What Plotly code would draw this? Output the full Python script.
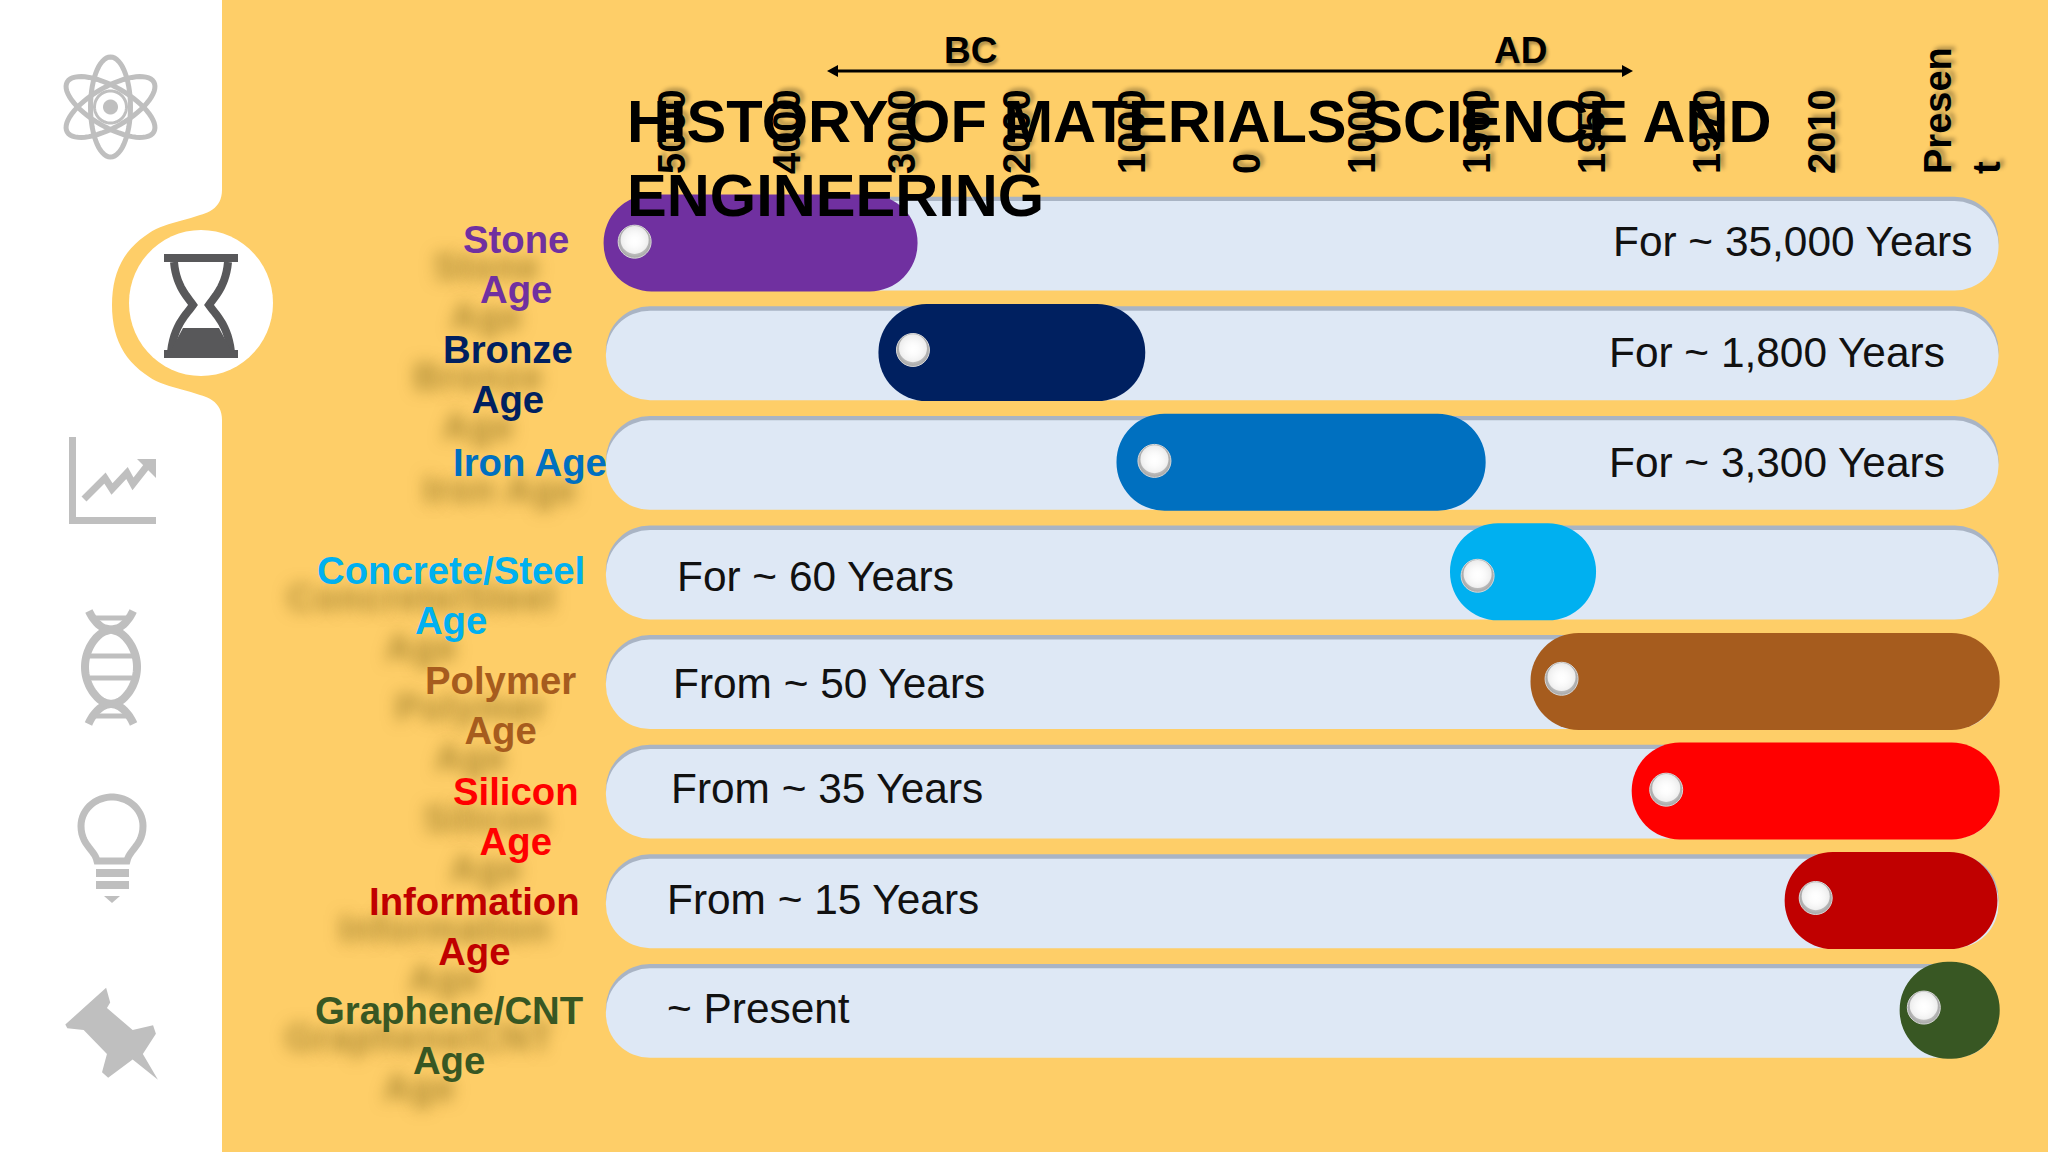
import numpy as np
import plotly.graph_objects as go

# ---------- data ----------
tick_labels = ["5000", "4000", "3000", "2000", "1000", "0", "1000", "1900", "1950", "1970", "2010", "Presen<br>t"]
tick_positions = [0, 1, 2, 3, 4, 5, 6, 7, 8, 9, 10, 11.22]
ages = ["Stone<br>Age", "Bronze<br>Age", "Iron Age", "Concrete/Steel<br>Age", "Polymer<br>Age",
        "Silicon<br>Age", "Information<br>Age", "Graphene/CNT<br>Age"]
rows = [0, 1, 2, 3, 4, 5, 6, 7]
age_start = [-0.60, 1.79, 3.86, 6.76, 7.46, 8.34, 9.67, 10.67]
age_end = [2.13, 4.11, 7.07, 8.03, 11.54, 11.54, 11.52, 11.54]
ball_pos = [-0.33, 2.09, 4.19, 7.00, 7.73, 8.64, 9.94, 10.88]
ball_rows = [-0.012, -0.024, -0.012, 0.036, -0.024, -0.012, -0.024, -0.024]
track_start = [-0.58] * 8
track_end = [11.53] * 8
age_colors = ["#7030A0", "#002060", "#0070C0", "#00B0F0", "#A65C1E", "#FF0000", "#C00000", "#385723"]
durations = ["For ~ 35,000 Years", "For ~ 1,800 Years", "For ~ 3,300 Years", "For ~ 60 Years",
             "From ~ 50 Years", "From ~ 35 Years", "From ~ 15 Years", "~ Present"]
title_line_1 = "HISTORY OF MATERIALS SCIENCE AND"
title_line_2 = "ENGINEERING"

# ---------- layout constants (pixels of the 2048x1152 page) ----------
W, H = 2048, 1152
S = 2048 / 1568
BG = "#FECE68"
ICON = "#BFBFBF"
DARK = "#58585A"
age_label_xy = [(395, 202.5), (389, 287), (406, 354), (345, 456), (383, 540), (395, 625), (363, 709), (344, 793)]
duration_xy = [(1233.5, 185), (1230.5, 270), (1230.5, 354), (516.5, 441), (513.5, 523), (512.5, 604), (509.5, 689), (509.5, 772)]
X0, DX = 672.6, 115.0      # pixel of tick 0, pixels per tick
Y0, DY = 243.0, 109.6      # pixel of row 0, pixels per row
PLOT_TOP = 175


def px(x):
    return x / W


def py(y):
    return 1 - y / H


def poly(pts, close=True):
    s = "M " + " L ".join(f"{px(x):.5f} {py(y):.5f}" for x, y in pts)
    return s + (" Z" if close else "")


def shape_path(pts, fill=None, line=None, width=0, close=True, layer="below"):
    return dict(type="path", xref="paper", yref="paper", path=poly(pts, close), layer=layer,
                fillcolor=fill if fill else "rgba(0,0,0,0)",
                line=dict(color=line if line else "rgba(0,0,0,0)", width=width))


def bez(p0, p1, p2, p3, n=14):
    t = np.linspace(0, 1, n)[:, None]
    p0, p1, p2, p3 = map(np.array, (p0, p1, p2, p3))
    return [tuple(v) for v in ((1-t)**3*p0 + 3*(1-t)**2*t*p1 + 3*(1-t)*t**2*p2 + t**3*p3)]


def ellipse(cx, cy, a, b, deg=0, n=60):
    t = np.linspace(0, 2*np.pi, n, endpoint=False)
    r = np.radians(deg)
    x, y = a*np.cos(t), b*np.sin(t)
    return [(cx + xi*np.cos(r) - yi*np.sin(r), cy + xi*np.sin(r) + yi*np.cos(r)) for xi, yi in zip(x, y)]


shapes = []
# white side panel with its notch
panel = [(0, 0), (222, 0), (222, 190)]
panel += bez((222, 190), (222, 205), (212, 212), (200, 215))
panel += bez((200, 215), (180, 222), (160, 224), (145, 236))
panel += bez((145, 236), (122, 252), (112, 275), (112, 305))
panel += bez((112, 305), (112, 335), (122, 358), (145, 374))
panel += bez((145, 374), (160, 386), (180, 388), (200, 395))
panel += bez((200, 395), (212, 398), (222, 405), (222, 420))
panel += [(222, H), (0, H)]
shapes.append(shape_path(panel, fill="#FFFFFF"))
# active icon disc
shapes.append(shape_path(ellipse(201, 303, 72, 73), fill="#FFFFFF"))

# atom
for d in (90, 30, -30):
    shapes.append(shape_path(ellipse(110.5, 107, 50, 20, d), line=ICON, width=5))
shapes.append(shape_path(ellipse(110.5, 107, 16, 16), line=ICON, width=3))
shapes.append(shape_path(ellipse(110.5, 107, 7.5, 7.5), fill=ICON))

# hourglass
shapes.append(shape_path([(164, 254), (238, 254), (238, 262), (164, 262)], fill=DARK))
shapes.append(shape_path([(164, 350), (238, 350), (238, 358), (164, 358)], fill=DARK))
glass_l = bez((174, 262), (176, 285), (186, 295), (193, 305)) + bez((193, 305), (186, 315), (174, 325), (171, 352))
glass_r = bez((228, 262), (226, 285), (216, 295), (209, 305)) + bez((209, 305), (216, 315), (228, 325), (231, 352))
shapes.append(shape_path(glass_l, line=DARK, width=8, close=False))
shapes.append(shape_path(glass_r, line=DARK, width=8, close=False))
shapes.append(shape_path([(183, 328), (219, 328), (232, 352), (170, 352)], fill=DARK))

# growth chart
shapes.append(shape_path([(72.5, 437), (72.5, 520.5), (156, 520.5)], line=ICON, width=7, close=False))
shapes.append(shape_path([(84, 499), (105, 478), (112, 489), (127, 473), (133, 484), (147, 466)],
                         line=ICON, width=7, close=False))
shapes.append(shape_path([(137, 459), (156, 459), (156, 478)], fill=ICON))

# DNA
ys = np.linspace(611, 724, 60)
c = np.cos((ys - 667) * np.pi / 74)
wave = 26 * np.sign(c) * np.abs(c) ** 0.5
shapes.append(shape_path(list(zip(111 + wave, ys)), line=ICON, width=8, close=False))
shapes.append(shape_path(list(zip(111 - wave, ys)), line=ICON, width=8, close=False))
for ry, half in ((618, 20), (656, 24), (678, 24), (716, 20)):
    shapes.append(shape_path([(111 - half, ry), (111 + half, ry)], line=ICON, width=5, close=False))

# bulb
bulb = [(97, 861)] + bez((97, 861), (95, 850), (81, 845), (81, 826))
t = np.linspace(np.pi, 2*np.pi, 30)
bulb += list(zip(112 + 31*np.cos(t), 826 + 29*np.sin(t)))
bulb += bez((143, 826), (143, 845), (129, 850), (127, 861))
shapes.append(shape_path(bulb, line=ICON, width=7))
shapes.append(shape_path([(96, 869), (129, 869), (129, 877), (96, 877)], fill=ICON))
shapes.append(shape_path([(96, 881), (129, 881), (129, 889), (96, 889)], fill=ICON))
shapes.append(shape_path([(104, 896), (120, 896), (112, 903)], fill=ICON))

# pin
pin_zoom = [(260, 1120), (270, 1160), (262, 1175), (325, 1235), (375, 1222), (382, 1245), (350, 1300), (387, 1370),
            (325, 1315), (265, 1365), (250, 1350), (262, 1300), (205, 1235), (165, 1230), (160, 1220)]
shapes.append(shape_path([(x/2.45, 576 + y/2.72) for x, y in pin_zoom], fill=ICON))

# BC / AD arrow
AY = 71
shapes.append(shape_path([(834, AY), (1626, AY)], line="#000000", width=3, close=False))
shapes.append(shape_path([(827, AY), (838, AY-6), (838, AY+6)], fill="#000000"))
shapes.append(shape_path([(1633, AY), (1622, AY-6), (1622, AY+6)], fill="#000000"))

# ---------- traces ----------
fig = go.Figure()
TW = 0.817
TOFF = -TW/2 + 0.026
# soft upper edge of the tracks
fig.add_trace(go.Bar(y=rows, base=track_start, x=[e - s for s, e in zip(track_start, track_end)], orientation="h",
                     width=TW, offset=TOFF - 0.04, marker=dict(color="#A9B4C4", cornerradius="50%", line_width=0),
                     hoverinfo="skip", showlegend=False))
fig.add_trace(go.Bar(y=rows, base=track_start, x=[e - s for s, e in zip(track_start, track_end)], orientation="h",
                     width=TW, offset=TOFF, marker=dict(color="#DEE8F5", cornerradius="50%", line_width=0),
                     hoverinfo="skip", showlegend=False))
fig.add_trace(go.Bar(y=rows, base=age_start, x=[e - s for s, e in zip(age_start, age_end)], orientation="h",
                     width=0.885, marker=dict(color=age_colors, cornerradius="50%", line_width=0),
                     text=[a.replace("<br>", " ") for a in ages], textposition="none",
                     hovertemplate="%{text}<extra></extra>", showlegend=False))
ball_y = [r + d for r, d in zip(rows, ball_rows)]
fig.add_trace(go.Scatter(x=ball_pos, y=ball_y, mode="markers", hoverinfo="skip", showlegend=False,
                         marker=dict(size=33, color="#A6A6A6", line=dict(color="#D8D8D8", width=1),
                                     gradient=dict(type="radial", color="#FFFFFF"))))
fig.add_trace(go.Scatter(x=ball_pos, y=[b - 0.016 for b in ball_y], mode="markers", hoverinfo="skip", showlegend=False,
                         marker=dict(size=28, color="rgba(255,255,255,0.75)", line_width=0,
                                     gradient=dict(type="radial", color="#FFFFFF"))))

# ---------- text ----------
FONT = "Liberation Sans"
annotations = []
for txt, (x, y), col in zip(ages, age_label_xy, age_colors):
    annotations.append(dict(text=f"<b>{txt}</b>", xref="paper", yref="paper", x=px(x*S), y=py(y*S),
                            xanchor="center", yanchor="middle", showarrow=False, align="center",
                            font=dict(family=FONT, size=38.3, color=col, shadow="-30px 27px 15px rgba(120,95,20,0.6)")))
for txt, (x, y) in zip(durations, duration_xy):
    annotations.append(dict(text=txt, xref="paper", yref="paper", x=px(x*S), y=py(y*S),
                            xanchor="left", yanchor="middle", showarrow=False,
                            font=dict(family=FONT, size=42.4, color="#111111")))
for txt, x in (("BC", 970), ("AD", 1520)):
    annotations.append(dict(text=f"<b>{txt}</b>", xref="paper", yref="paper", x=px(x), y=py(50),
                            xanchor="center", yanchor="middle", showarrow=False,
                            font=dict(family=FONT, size=37, color="#000000", shadow="2px 3px 3px rgba(0,0,0,0.3)")))
annotations.append(dict(text=f"<b>{title_line_2}</b>", xref="paper", yref="paper", x=px(625), y=py(195),
                        xanchor="left", yanchor="middle", showarrow=False,
                        font=dict(family=FONT, size=59.6, color="#000000")))

fig.update_layout(
    width=W, height=H, autosize=False,
    margin=dict(l=0, r=0, t=0, b=0, pad=0),
    paper_bgcolor=BG, plot_bgcolor="rgba(0,0,0,0)",
    barmode="overlay", showlegend=False,
    shapes=shapes, annotations=annotations,
    title=dict(text=f"<b>{title_line_1}</b>", x=px(627), xanchor="left", xref="paper",
               y=py(121), yanchor="middle", yref="paper",
               font=dict(family=FONT, size=59.6, color="#000000")),
    xaxis=dict(domain=[0, 1], range=[(0 - X0)/DX, (W - X0)/DX], side="top", anchor="y",
               tickmode="array", tickvals=tick_positions, ticktext=tick_labels, tickangle=-90,
               tickfont=dict(family=FONT, size=38, color="#000000", weight="bold",
                             shadow="3px 4px 4px rgba(0,0,0,0.3)"),
               ticks="", showgrid=False, zeroline=False, showline=False, fixedrange=True),
    yaxis=dict(domain=[0, 1 - PLOT_TOP/H], range=[(H - Y0)/DY, (PLOT_TOP - Y0)/DY], visible=False,
               showgrid=False, zeroline=False, fixedrange=True),
)
fig.write_html("out.html", config=dict(displayModeBar=False),
               post_script="document.body.style.margin='0';document.body.style.overflow='hidden';")
